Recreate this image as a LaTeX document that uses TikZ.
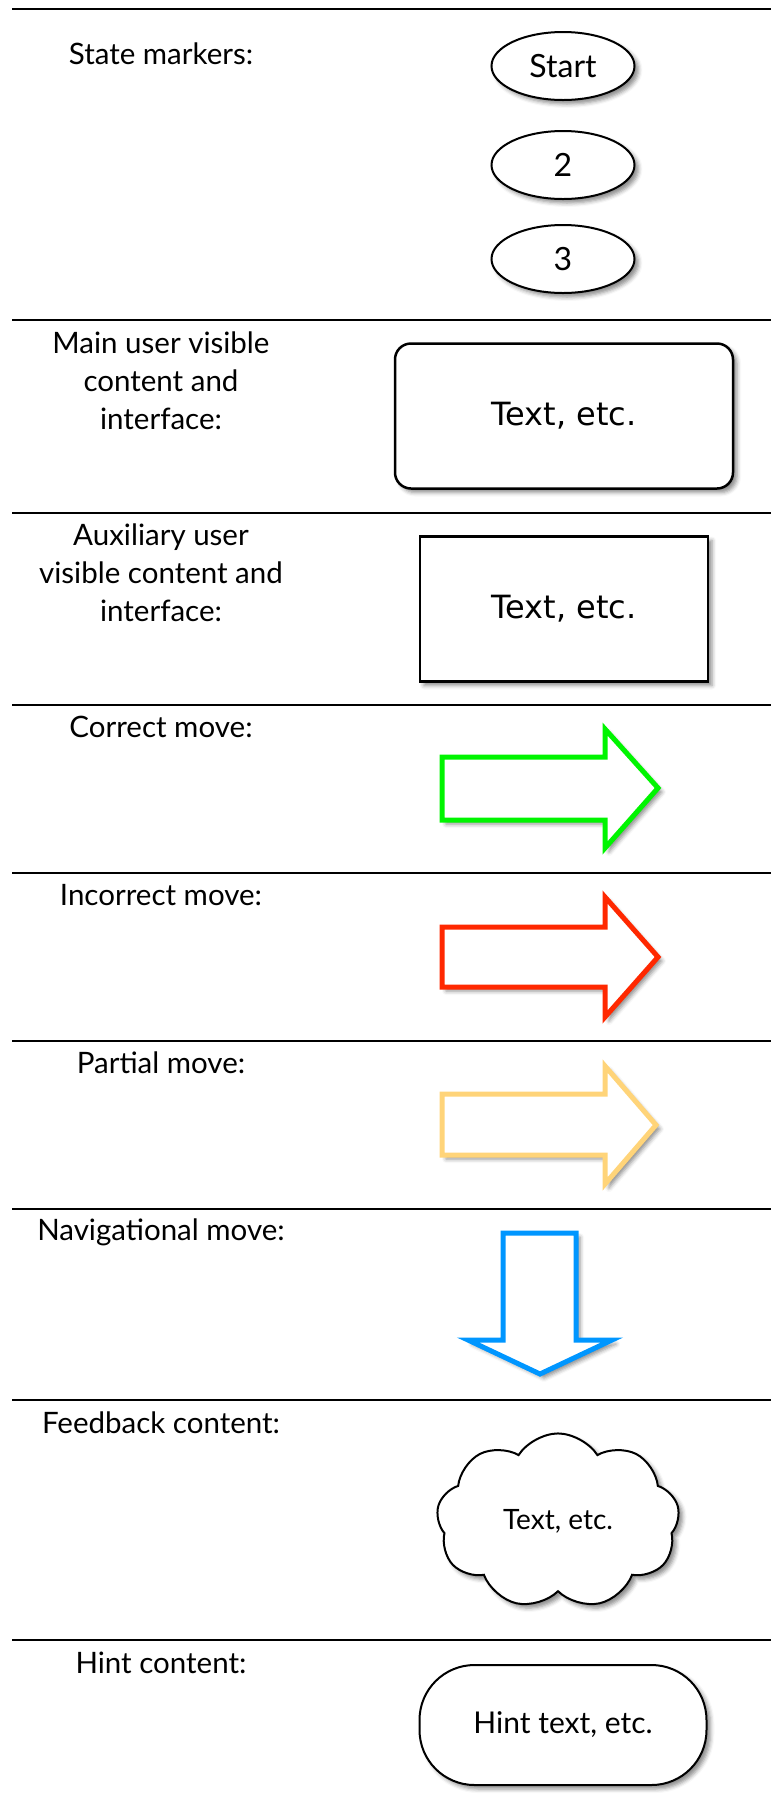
\documentclass[tikz,border=0pt]{standalone}
\usepackage{fontspec}
\setmainfont{Lato}
\newfontfamily\verdfont{DejaVu Sans}
\usetikzlibrary{shapes,shadows,shadows.blur,positioning}

\definecolor{okgreen}{RGB}{0,245,0}
\definecolor{badred}{RGB}{255,40,0}
\definecolor{partyellow}{RGB}{255,212,121}
\definecolor{navblue}{RGB}{0,150,255}

\begin{document}
\begin{tikzpicture}[
    x=1pt, y=-1pt,
    shade/.style={blur shadow={shadow xshift=4pt, shadow yshift=-4pt, shadow blur radius=4pt, shadow opacity=45}},
    legend/.style={align=center, inner sep=0pt, font=\fontsize{29.5}{38}\selectfont},
    sepline/.style={line width=2.6pt},
    state/.style={draw, ellipse, fill=white, line width=2pt, minimum width=143pt, minimum height=68pt, inner sep=0pt, font=\fontsize{32}{36}\selectfont, shade},
    box/.style={draw, rectangle, fill=white, line width=2.5pt, minimum height=145pt, inner sep=0pt, font=\verdfont\fontsize{32}{38}\selectfont, shade},
    movearrow/.style={line width=5pt, line join=miter, fill=white, shade}
]

    % Frame and row separators
    \useasboundingbox (0,0) rectangle (771,1800);
    \foreach \y in {9,320,513,705,873,1041,1209,1400,1640}
        \draw[sepline] (12,\y) -- (771,\y);

    % 1. State markers
    \node[legend, anchor=base] (lblstate) at (161,64) {State markers:};
    \node[state] (start) at (563,66) {Start};
    \node[state] (st2) at (563,165) {2};
    \node[state] (st3) at (563,259) {3};

    % 2. Main and auxiliary content
    \node[legend] (lblmain) at (161,381) {Main user visible\\content and\\interface:};
    \node[box, rounded corners=16pt, minimum width=338pt] (mainbox) at (564,416) {Text, etc.};

    \node[legend] (lblaux) at (161,573) {Auxiliary user\\visible content and\\interface:};
    \node[box, minimum width=288pt] (auxbox) at (564,609) {Text, etc.};

    % 3. Moves
    \node[legend, anchor=base] (lblcorrect) at (161,737) {Correct move:};
    \draw[movearrow, draw=okgreen] (442,757) -- (605,757) -- (605,729) -- (658,788) -- (605,848) -- (605,820) -- (442,820) -- cycle;

    \node[legend, anchor=base] (lblincorrect) at (161,905) {Incorrect move:};
    \draw[movearrow, draw=badred] (442,927) -- (605,927) -- (605,897) -- (658,957) -- (605,1017) -- (605,987) -- (442,987) -- cycle;

    \node[legend, anchor=base] (lblpartial) at (161,1073) {Partial move:};
    \draw[movearrow, draw=partyellow] (442,1094) -- (605,1094) -- (605,1066) -- (656,1125) -- (605,1184) -- (605,1155) -- (442,1155) -- cycle;

    \node[legend, anchor=base] (lblnav) at (161,1240) {Navigational move:};
    \draw[movearrow, draw=navblue] (503,1233) -- (576,1233) -- (576,1340) -- (612,1340) -- (540,1374) -- (468,1340) -- (503,1340) -- cycle;

    % 4. Feedback and hints
    \node[legend, anchor=base] (lblfeedback) at (161,1433) {Feedback content:};
    \node[draw, cloud, cloud puffs=9, cloud puff arc=115, fill=white, line width=2pt, minimum width=243pt, minimum height=172pt, inner sep=0pt, font=\fontsize{28}{32}\selectfont, shade] (feedback) at (558,1521) {Text, etc.};

    \node[legend, anchor=base] (lblhint) at (161,1673) {Hint content:};
    \node[draw, rectangle, rounded corners=55pt, fill=white, line width=2pt, minimum width=287pt, minimum height=120pt, inner sep=0pt, font=\fontsize{30}{34}\selectfont, shade] (hint) at (563,1725) {Hint text, etc.};

\end{tikzpicture}
\end{document}
